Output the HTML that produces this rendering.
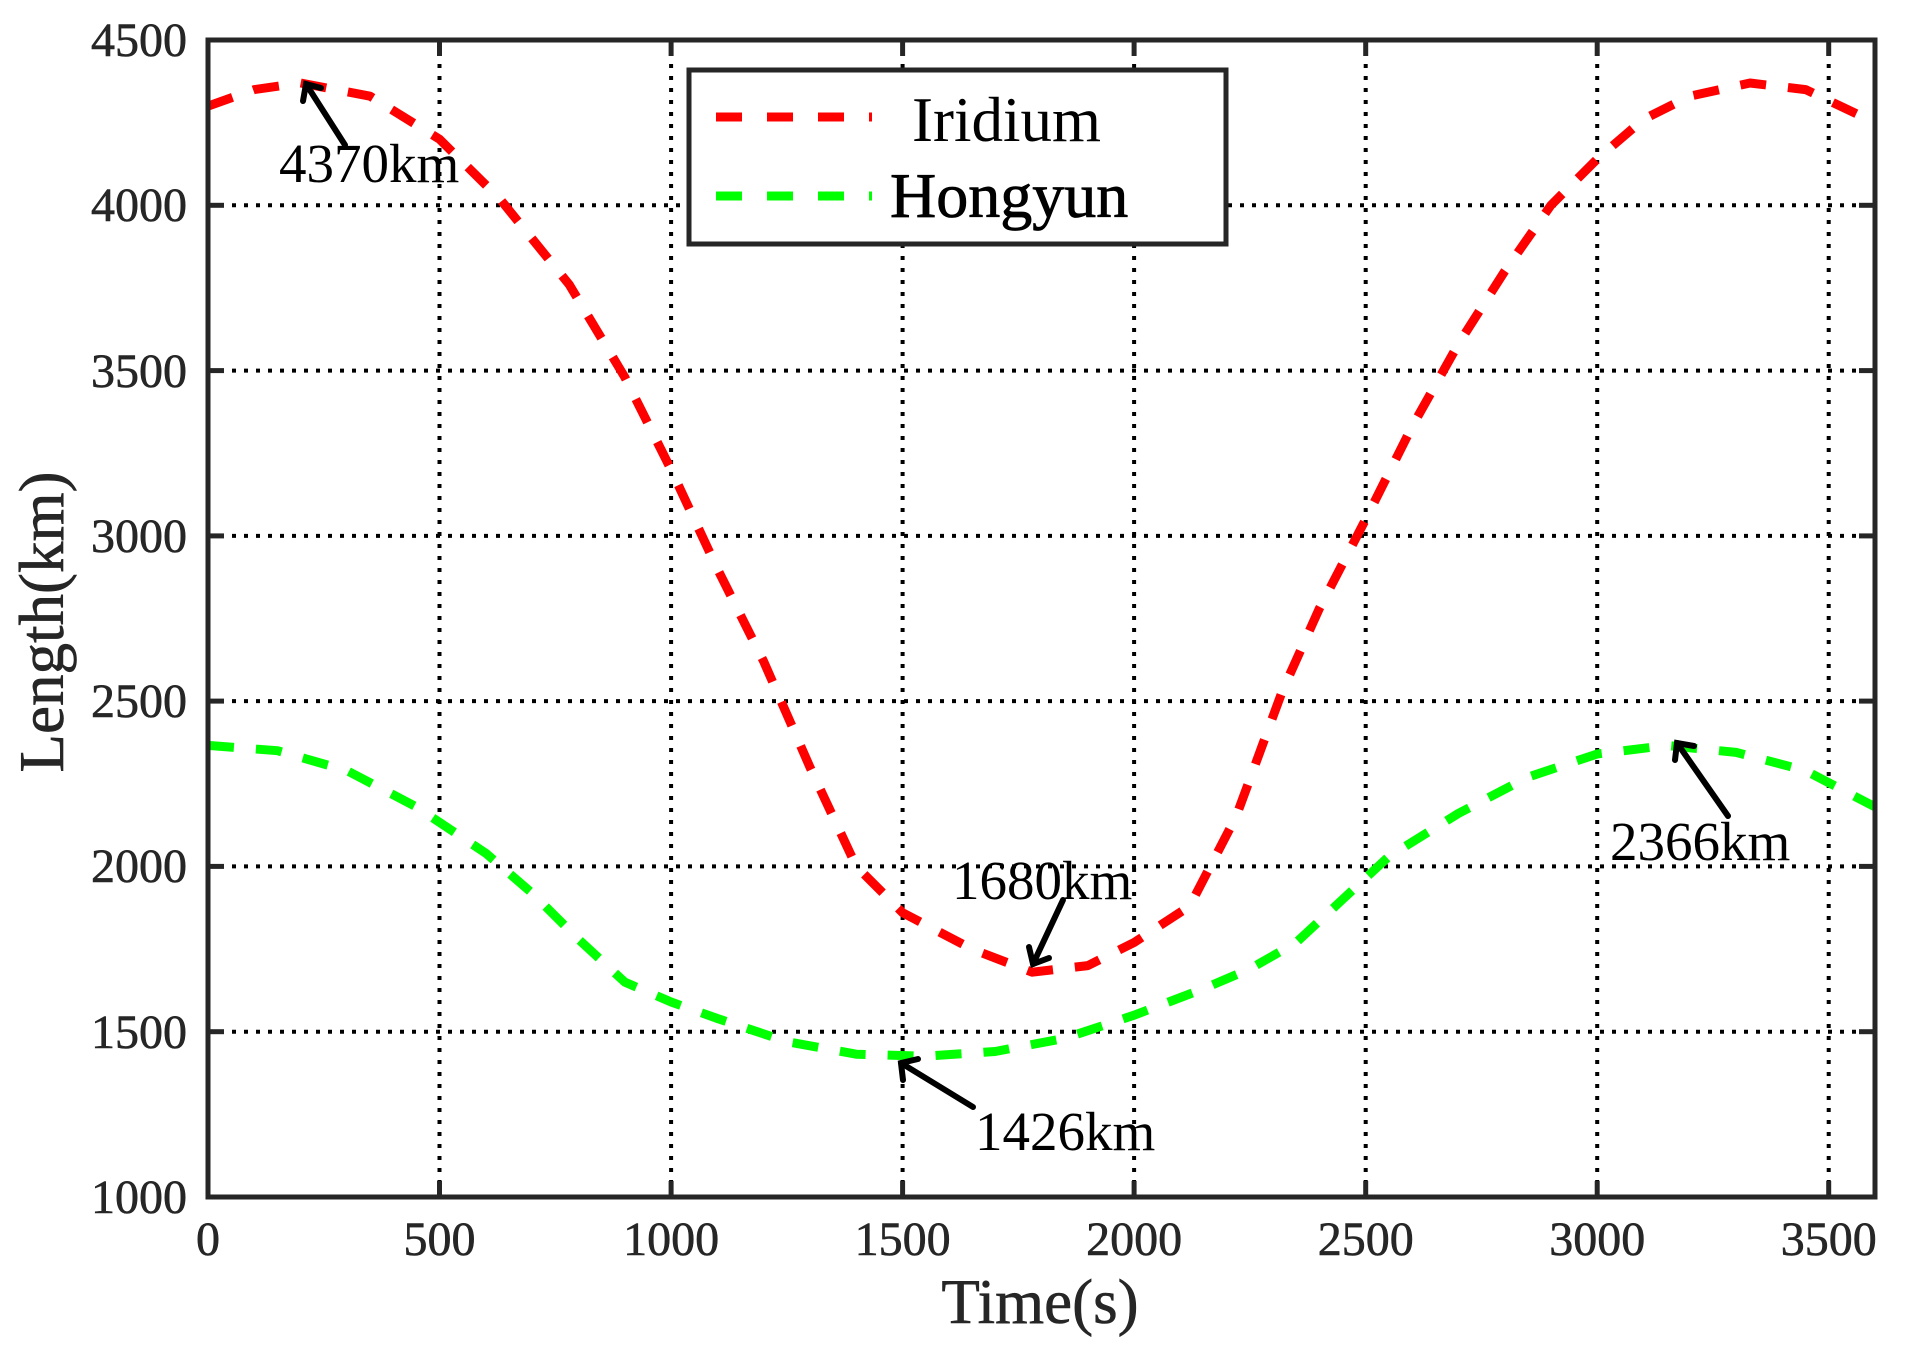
<!DOCTYPE html>
<html><head><meta charset="utf-8"><style>html,body{margin:0;padding:0;background:#fff}svg{display:block}</style></head>
<body>
<svg width="1906" height="1349" viewBox="0 0 1906 1349" xmlns="http://www.w3.org/2000/svg" font-family="'Liberation Serif', serif">
<rect width="1906" height="1349" fill="#fff"/>
<g stroke="#000" stroke-width="4" stroke-dasharray="4 8" fill="none">
<line x1="439.5" y1="40" x2="439.5" y2="1197"/>
<line x1="671.1" y1="40" x2="671.1" y2="1197"/>
<line x1="902.6" y1="40" x2="902.6" y2="1197"/>
<line x1="1134.1" y1="40" x2="1134.1" y2="1197"/>
<line x1="1365.7" y1="40" x2="1365.7" y2="1197"/>
<line x1="1597.2" y1="40" x2="1597.2" y2="1197"/>
<line x1="1828.7" y1="40" x2="1828.7" y2="1197"/>
<line x1="208" y1="1031.7" x2="1875" y2="1031.7"/>
<line x1="208" y1="866.4" x2="1875" y2="866.4"/>
<line x1="208" y1="701.1" x2="1875" y2="701.1"/>
<line x1="208" y1="535.9" x2="1875" y2="535.9"/>
<line x1="208" y1="370.6" x2="1875" y2="370.6"/>
<line x1="208" y1="205.3" x2="1875" y2="205.3"/>
</g>
<g stroke="#262626" stroke-width="5">
<line x1="439.5" y1="1197" x2="439.5" y2="1181"/><line x1="671.1" y1="1197" x2="671.1" y2="1181"/><line x1="902.6" y1="1197" x2="902.6" y2="1181"/><line x1="1134.1" y1="1197" x2="1134.1" y2="1181"/><line x1="1365.7" y1="1197" x2="1365.7" y2="1181"/><line x1="1597.2" y1="1197" x2="1597.2" y2="1181"/><line x1="1828.7" y1="1197" x2="1828.7" y2="1181"/>
<line x1="439.5" y1="40" x2="439.5" y2="56"/><line x1="671.1" y1="40" x2="671.1" y2="56"/><line x1="902.6" y1="40" x2="902.6" y2="56"/><line x1="1134.1" y1="40" x2="1134.1" y2="56"/><line x1="1365.7" y1="40" x2="1365.7" y2="56"/><line x1="1597.2" y1="40" x2="1597.2" y2="56"/><line x1="1828.7" y1="40" x2="1828.7" y2="56"/>
<line x1="208" y1="1031.7" x2="224" y2="1031.7"/><line x1="208" y1="866.4" x2="224" y2="866.4"/><line x1="208" y1="701.1" x2="224" y2="701.1"/><line x1="208" y1="535.9" x2="224" y2="535.9"/><line x1="208" y1="370.6" x2="224" y2="370.6"/><line x1="208" y1="205.3" x2="224" y2="205.3"/>
<line x1="1875" y1="1031.7" x2="1859" y2="1031.7"/><line x1="1875" y1="866.4" x2="1859" y2="866.4"/><line x1="1875" y1="701.1" x2="1859" y2="701.1"/><line x1="1875" y1="535.9" x2="1859" y2="535.9"/><line x1="1875" y1="370.6" x2="1859" y2="370.6"/><line x1="1875" y1="205.3" x2="1859" y2="205.3"/>
</g>
<g fill="#262626" font-size="48" text-anchor="middle" stroke="#262626" stroke-width="0.6">
<text x="208" y="1255">0</text><text x="439.5" y="1255">500</text><text x="671.1" y="1255">1000</text><text x="902.6" y="1255">1500</text><text x="1134.1" y="1255">2000</text><text x="1365.7" y="1255">2500</text><text x="1597.2" y="1255">3000</text><text x="1828.7" y="1255">3500</text>
</g>
<g fill="#262626" font-size="48" text-anchor="end" stroke="#262626" stroke-width="0.6">
<text x="187" y="1213">1000</text><text x="187" y="1048">1500</text><text x="187" y="882">2000</text><text x="187" y="717">2500</text><text x="187" y="552">3000</text><text x="187" y="387">3500</text><text x="187" y="221">4000</text><text x="187" y="56">4500</text>
</g>
<polyline fill="none" stroke="#ff0000" stroke-width="9" stroke-dasharray="26 22" stroke-linejoin="round" points="208,106.1 254.3,89.6 300.6,83 370.1,96.2 439.5,139.2 499.7,198.7 569.2,284.6 624.8,377.2 671.1,469.7 717.4,568.9 763.7,661.5 810,767.3 856.3,866.4 902.6,912.7 972,949.1 1032.2,972.2 1087.8,965.6 1134.1,942.5 1189.7,906.1 1236,816.8 1282.3,691.2 1319.3,608.6 1365.7,519.3 1412,426.8 1458.3,344.1 1504.6,271.4 1550.9,205.3 1597.2,159 1643.5,119.3 1689.8,96.2 1750,83 1805.6,89.6 1875,122.6"/>
<polyline fill="none" stroke="#00ff00" stroke-width="9" stroke-dasharray="26 22" stroke-linejoin="round" points="208,745.4 277.5,750.7 346.9,770.6 416.4,806.9 485.8,853.2 532.1,893.1 578.4,939.2 624.8,982.1 671.1,1002 717.4,1018.5 786.8,1041.6 856.3,1054.2 925.7,1056.2 995.2,1051.5 1064.7,1038.3 1134.1,1015.2 1203.6,988.7 1249.9,968.9 1296.2,942.5 1342.5,899.5 1388.8,856.5 1458.3,813.5 1527.7,777.2 1597.2,754 1666.6,745.4 1736.1,752.4 1805.6,770.6 1875,806.9"/>
<rect x="208" y="40" width="1667" height="1157" fill="none" stroke="#262626" stroke-width="5"/>
<rect x="689" y="70" width="537" height="174" fill="#fff" stroke="#262626" stroke-width="5"/>
<line x1="716" y1="117" x2="872" y2="117" stroke="#ff0000" stroke-width="9" stroke-dasharray="26 25"/>
<line x1="716" y1="196" x2="872" y2="196" stroke="#00ff00" stroke-width="9" stroke-dasharray="26 25"/>
<text x="912" y="141" font-size="63" fill="#000">Iridium</text>
<text x="890" y="217" font-size="64" fill="#000" stroke="#000" stroke-width="0.8">Hongyun</text>
<g fill="#000" font-size="55">
<text x="279" y="182">4370km</text>
<text x="952" y="899">1680km</text>
<text x="975" y="1150">1426km</text>
<text x="1610" y="860">2366km</text>
</g>
<g stroke="#000" stroke-width="6" fill="none" stroke-linecap="round">
<line x1="345" y1="145" x2="306" y2="84"/><polyline points="303,101 306,84 321,88"/>
<line x1="1063" y1="900" x2="1033" y2="964"/><polyline points="1029,947 1033,964 1049,958"/>
<line x1="973" y1="1107" x2="901" y2="1063"/><polyline points="903,1080 901,1063 918,1059"/>
<line x1="1728" y1="816" x2="1677" y2="743"/><polyline points="1675,760 1677,743 1694,746"/>
</g>
<text x="1040" y="1323" font-size="63" fill="#262626" text-anchor="middle" stroke="#262626" stroke-width="0.6">Time(s)</text>
<text transform="translate(63,622) rotate(-90)" font-size="63" fill="#262626" text-anchor="middle" stroke="#262626" stroke-width="0.6">Length(km)</text>
</svg>
</body></html>
